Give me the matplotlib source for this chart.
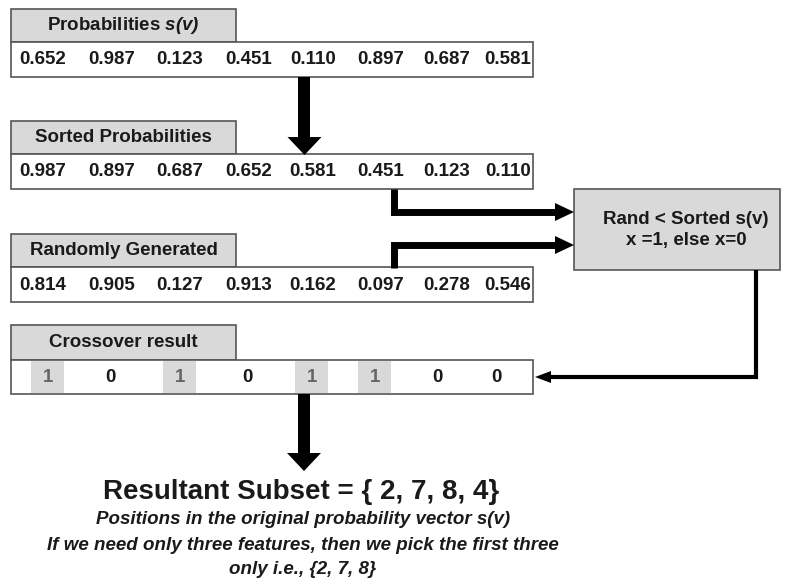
import matplotlib.pyplot as plt
from matplotlib.patches import Rectangle, Polygon

# values shown in the diagram
probabilities = ["0.652", "0.987", "0.123", "0.451", "0.110", "0.897", "0.687", "0.581"]
sorted_probs = ["0.987", "0.897", "0.687", "0.652", "0.581", "0.451", "0.123", "0.110"]
random_vals = ["0.814", "0.905", "0.127", "0.913", "0.162", "0.097", "0.278", "0.546"]
crossover = [1, 0, 1, 0, 1, 1, 0, 0]
headers = ["Probabilities $\\mathbfit{s(v)}$", "Sorted Probabilities", "Randomly Generated"]

# layout (pixels)
col_x = [43, 112, 180, 249, 313, 381, 447, 508]
cross_x = [48, 110, 180, 247, 312, 375, 437, 496]
row_tops = [9, 121, 234]

GRAY = "#d9d9d9"
EDGE = "#555555"
TXT = "#1a1a1a"
FS = 13.5

plt.rcParams["font.family"] = ["Liberation Sans", "DejaVu Sans"]
plt.rcParams["mathtext.fontset"] = "custom"
plt.rcParams["mathtext.bfit"] = "Liberation Sans:bold:italic"

fig = plt.figure(figsize=(7.88, 5.83), dpi=100)
ax = fig.add_axes([0, 0, 1, 1])
ax.set_xlim(0, 788)
ax.set_ylim(583, 0)
ax.axis("off")


def header_box(x0, x1, y0, y1, label):
    ax.add_patch(Rectangle((x0, y0), x1 - x0, y1 - y0, facecolor=GRAY, edgecolor=EDGE, lw=1.2))
    ax.text((x0 + x1) / 2, (y0 + y1) / 2, label, ha="center", va="center",
            fontsize=FS, fontweight="bold", color=TXT)


def row_box(x0, x1, y0, y1):
    ax.add_patch(Rectangle((x0, y0), x1 - x0, y1 - y0, facecolor="white", edgecolor=EDGE, lw=1.2))


for top, label, vals in zip(row_tops, headers, [probabilities, sorted_probs, random_vals]):
    header_box(11, 236, top, top + 33, label)
    row_box(11, 533, top + 33, top + 68)
    for x, v in zip(col_x, vals):
        ax.text(x, top + 51, v, ha="center", va="center", fontsize=FS,
                fontweight="bold", color=TXT)

# crossover row
header_box(11, 236, 325, 360, "Crossover result")
row_box(11, 533, 360, 394)
for x, c in zip(cross_x, crossover):
    if c == 1:
        ax.add_patch(Rectangle((x - 16.5, 361), 33, 32, facecolor=GRAY, edgecolor="none"))
    ax.text(x, 378, str(c), ha="center", va="center", fontsize=FS, fontweight="bold",
            color="#666666" if c == 1 else TXT)

# decision box
ax.add_patch(Rectangle((574, 189), 206, 81, facecolor=GRAY, edgecolor=EDGE, lw=1.2))
ax.text(686, 219, "Rand < Sorted s(v)", ha="center", va="center", fontsize=FS,
        fontweight="bold", color=TXT)
ax.text(686, 241, "x =1, else x=0", ha="center", va="center", fontsize=FS,
        fontweight="bold", color=TXT)


def down_arrow(xc, y0, y1, shaft=12, head_w=34, head_h=18):
    ax.add_patch(Rectangle((xc - shaft / 2, y0), shaft, y1 - head_h - y0 + 1,
                           facecolor="black", edgecolor="none"))
    ax.add_patch(Polygon([(xc - head_w / 2, y1 - head_h), (xc + head_w / 2, y1 - head_h),
                          (xc, y1)], closed=True, facecolor="black", edgecolor="none"))


def elbow_arrow(pts, tip, direction, lw=5, head_l=19, head_w=18):
    xs = [p[0] for p in pts]
    ys = [p[1] for p in pts]
    ax.plot(xs, ys, color="black", lw=lw, solid_joinstyle="miter", solid_capstyle="butt")
    tx, ty = tip
    base = tx - direction * head_l
    ax.add_patch(Polygon([(base, ty - head_w / 2), (tx, ty), (base, ty + head_w / 2)],
                         closed=True, facecolor="black", edgecolor="none"))


down_arrow(304.5, 77, 155)
down_arrow(304, 394, 471)

elbow_arrow([(394, 189), (394, 212), (558, 212)], (574, 212), 1)
elbow_arrow([(394, 268), (394, 245), (558, 245)], (574, 245), 1)
elbow_arrow([(756, 270), (756, 377), (550, 377)], (535, 377), -1, lw=3, head_l=16, head_w=12)

# result text
ax.text(301, 492, "Resultant Subset = { 2, 7, 8, 4}", ha="center", va="center",
        fontsize=20, fontweight="bold", color=TXT)
notes = ["Positions in the original probability vector s(v)",
         "If we need only three features, then we pick the first three",
         "only i.e., {2, 7, 8}"]
for y, line in zip([520, 545, 569], notes):
    ax.text(303, y, line, ha="center", va="center", fontsize=FS, fontweight="bold",
            fontstyle="italic", color=TXT)

fig.savefig("out.png", dpi=100)
